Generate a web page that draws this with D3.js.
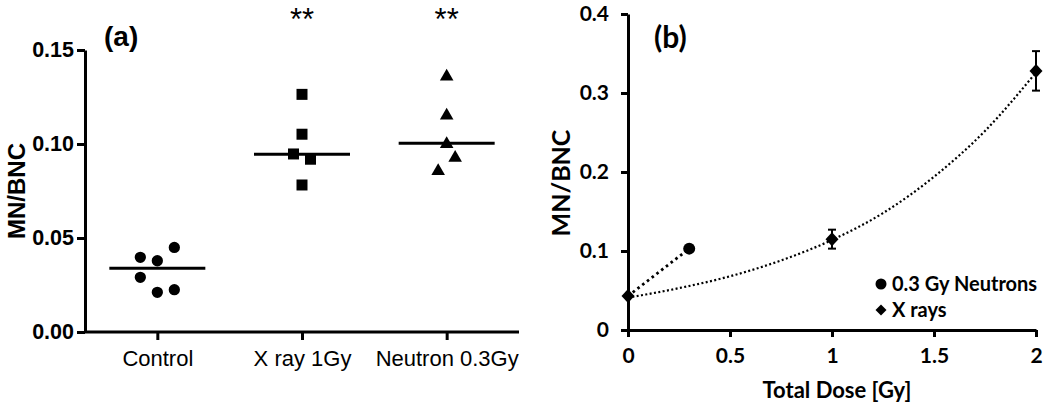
<!DOCTYPE html>
<html><head><meta charset="utf-8">
<script src="https://cdn.jsdelivr.net/npm/d3@7"></script>
<style>
html,body{margin:0;padding:0;background:#fff;}
svg{display:block;}
</style></head>
<body>
<svg id="chart" width="1050" height="410"></svg>
<script>
// ---------- Data: panel (a) ----------
const categories = ["Control", "X ray 1Gy", "Neutron 0.3Gy"];
const controlValues = [0.0397, 0.0379, 0.0450, 0.0291, 0.0211, 0.0225];
const xrayValues = [0.1264, 0.1052, 0.0947, 0.0919, 0.0782];
const neutronValues = [0.1358, 0.1151, 0.1000, 0.0927, 0.0856];
const medians = [0.0339, 0.0945, 0.1004];
const significance = ["", "**", "**"];
const yTicksA = [0, 0.05, 0.10, 0.15];

// ---------- Data: panel (b) ----------
const xrayDose = [0, 1, 2];
const xrayMean = [0.043, 0.115, 0.328];
const xrayErr = [0, 0.012, 0.025];
const neutronDose = [0, 0.3];
const neutronMean = [0.043, 0.103];
const trendDose = [0, 0.25, 0.5, 0.75, 1, 1.25, 1.5, 1.75, 2];
const trendMN = [0.041, 0.053, 0.068, 0.088, 0.114, 0.148, 0.194, 0.252, 0.326];
const yTicksB = [0, 0.1, 0.2, 0.3, 0.4];
const xTicksB = [0, 0.5, 1, 1.5, 2];
const legendLabels = ["0.3 Gy Neutrons", "X rays"];

// column slots (horizontal dodge units) for the scatter layout
const slots = [[-2, 0, 2, -2, 0, 2], [0, 0, -1, 1, 0], [0, 0, 0, 1, -1]];

const svg = d3.select("#chart");
svg.append("rect").attr("width", 1050).attr("height", 410).attr("fill", "#fff");

// ================= Panel (a) =================
const fontA = "'Liberation Sans', Arial, sans-serif";
const xA = d3.scalePoint().domain(categories).range([85, 519]).padding(0.5);
const yA = d3.scaleLinear().domain([0, 0.15]).range([332, 50]);
const gA = svg.append("g");

const yAxisA = d3.axisLeft(yA).tickValues(yTicksA).tickFormat(d3.format(".2f"))
  .tickSizeInner(8).tickSizeOuter(0).tickPadding(3);
const yaxA = gA.append("g").attr("transform", "translate(85,0)").call(yAxisA);
const xAxisA = d3.axisBottom(xA).tickSizeInner(8).tickSizeOuter(0).tickPadding(10);
const xaxA = gA.append("g").attr("transform", "translate(0,332)").call(xAxisA);
[yaxA, xaxA].forEach(ax => {
  ax.select(".domain").attr("stroke", "#000").attr("stroke-width", 3);
  ax.selectAll(".tick line").attr("stroke", "#000").attr("stroke-width", 3);
});
yaxA.selectAll(".tick text").attr("font-family", fontA).attr("font-weight", "bold")
  .attr("font-size", 21.5).attr("fill", "#000");
xaxA.selectAll(".tick text").attr("font-family", fontA)
  .attr("font-size", 22).attr("fill", "#000");
xaxA.select(".domain").attr("d", "M85,0H519");

gA.append("text").attr("transform", "translate(25,191) rotate(-90)")
  .attr("text-anchor", "middle").attr("font-family", fontA).attr("font-weight", "bold")
  .attr("font-size", 24).text("MN/BNC");
gA.append("text").attr("x", 104).attr("y", 46).attr("font-family", fontA)
  .attr("font-weight", "bold").attr("font-size", 28).text("(a)");

const groups = [controlValues, xrayValues, neutronValues];
const shapes = [d3.symbolCircle, d3.symbolSquare, d3.symbolTriangle];
const sizes = [100, 121, 80];
groups.forEach((vals, gi) => {
  const cx = xA(categories[gi]);
  gA.selectAll(null).data(vals).enter().append("path")
    .attr("d", d3.symbol().type(shapes[gi]).size(sizes[gi]))
    .attr("transform", (d, i) => `translate(${cx + slots[gi][i] * 8.5},${yA(d)})`)
    .attr("fill", "#000");
  gA.append("line").attr("x1", cx - 48).attr("x2", cx + 48)
    .attr("y1", yA(medians[gi])).attr("y2", yA(medians[gi]))
    .attr("stroke", "#000").attr("stroke-width", 3);
  if (significance[gi]) {
    gA.append("text").attr("x", cx).attr("y", 30).attr("text-anchor", "middle")
      .attr("font-family", fontA).attr("font-size", 31).text(significance[gi]);
  }
});

// ================= Panel (b) =================
const fontB = "Lato, 'Open Sans', sans-serif";
const xB = d3.scaleLinear().domain([0, 2]).range([628, 1036]);
const yB = d3.scaleLinear().domain([0, 0.4]).range([330, 14]);
const gB = svg.append("g");

const yAxisB = d3.axisLeft(yB).tickValues(yTicksB)
  .tickFormat(d => d === 0 ? "0" : d3.format(".1f")(d))
  .tickSizeInner(7).tickSizeOuter(0).tickPadding(12);
const yaxB = gB.append("g").attr("transform", "translate(628,0)").call(yAxisB);
const xAxisB = d3.axisBottom(xB).tickValues(xTicksB).tickFormat(d3.format("~g"))
  .tickSizeInner(7).tickSizeOuter(0).tickPadding(11);
const xaxB = gB.append("g").attr("transform", "translate(0,330)").call(xAxisB);
[yaxB, xaxB].forEach(ax => {
  ax.select(".domain").attr("stroke", "#000").attr("stroke-width", 3);
  ax.selectAll(".tick line").attr("stroke", "#000").attr("stroke-width", 3);
  ax.selectAll(".tick text").attr("font-family", fontB).attr("font-weight", "bold")
    .attr("font-size", 21).attr("fill", "#000");
});

gB.append("text").attr("transform", "translate(570,183) rotate(-90)")
  .attr("text-anchor", "middle").attr("font-family", fontB).attr("font-weight", "bold")
  .attr("font-size", 25).text("MN/BNC");
gB.append("text").attr("x", 837).attr("y", 398).attr("text-anchor", "middle")
  .attr("font-family", fontB).attr("font-weight", "bold").attr("font-size", 22)
  .text("Total Dose [Gy]");
gB.append("text").attr("x", 654).attr("y", 48).attr("font-family", fontB)
  .attr("font-weight", "bold").attr("font-size", 30).text("(b)");

// trend curve (x rays)
const trendLine = d3.line().x((d, i) => xB(trendDose[i])).y(d => yB(d)).curve(d3.curveMonotoneX);
gB.append("path").attr("d", trendLine(trendMN)).attr("fill", "none")
  .attr("stroke", "#000").attr("stroke-width", 2.2).attr("stroke-dasharray", "2,2.4");
// neutron connecting line
const nLine = d3.line().x((d, i) => xB(neutronDose[i])).y(d => yB(d));
gB.append("path").attr("d", nLine(neutronMean)).attr("fill", "none")
  .attr("stroke", "#000").attr("stroke-width", 2.8).attr("stroke-dasharray", "2.6,3.4");

// error bars
xrayDose.forEach((d, i) => {
  if (!xrayErr[i]) return;
  const x = xB(d), y1 = yB(xrayMean[i] - xrayErr[i]), y2 = yB(xrayMean[i] + xrayErr[i]);
  gB.append("line").attr("x1", x).attr("x2", x).attr("y1", y1).attr("y2", y2)
    .attr("stroke", "#000").attr("stroke-width", 2);
  [y1, y2].forEach(y => gB.append("line").attr("x1", x - 4).attr("x2", x + 4)
    .attr("y1", y).attr("y2", y).attr("stroke", "#000").attr("stroke-width", 2));
});

const diamond = (w, h) => `M0,${-h / 2}L${w / 2},0L0,${h / 2}L${-w / 2},0Z`;
gB.selectAll(null).data(xrayDose).enter().append("path")
  .attr("d", diamond(13, 14))
  .attr("transform", (d, i) => `translate(${xB(d)},${yB(xrayMean[i])})`).attr("fill", "#000");
gB.append("circle").attr("cx", xB(neutronDose[1])).attr("cy", yB(neutronMean[1]))
  .attr("r", 6).attr("fill", "#000");

// legend
const lg = gB.append("g");
lg.append("circle").attr("cx", 881).attr("cy", 284).attr("r", 5.5).attr("fill", "#000");
lg.append("path").attr("d", diamond(11, 11)).attr("transform", "translate(881,310)").attr("fill", "#000");
legendLabels.forEach((t, i) => lg.append("text").attr("x", 892).attr("y", 291 + i * 26)
  .attr("font-family", fontB).attr("font-weight", "bold").attr("font-size", 20).text(t));
</script>
</body></html>
